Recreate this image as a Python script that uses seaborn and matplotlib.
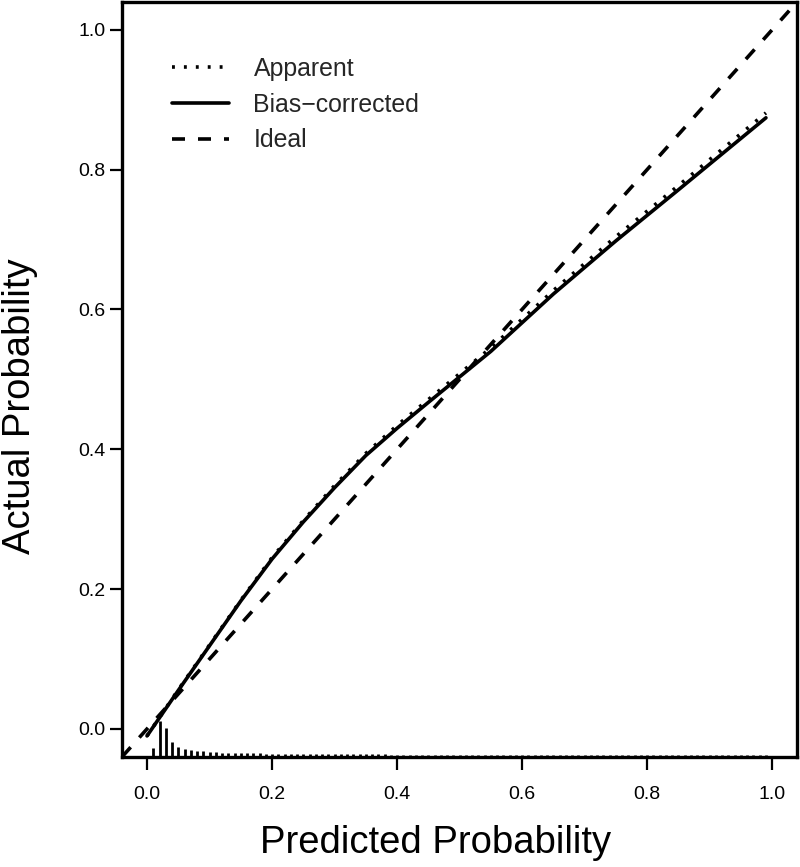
import numpy as np
import pandas as pd
import matplotlib
matplotlib.use("Agg")
import matplotlib.pyplot as plt
import seaborn as sns

# calibration curves (predicted vs actual probability)
pred = [0.00, 0.05, 0.10, 0.15, 0.20, 0.25, 0.30, 0.35, 0.40, 0.45,
        0.55, 0.65, 0.75, 0.85, 0.99]
bias_corrected = [-0.010, 0.055, 0.119, 0.183, 0.243, 0.296, 0.345, 0.391, 0.430, 0.467,
                  0.540, 0.622, 0.698, 0.771, 0.874]
apparent = [-0.010, 0.056, 0.120, 0.184, 0.245, 0.298, 0.348, 0.394, 0.434, 0.471,
            0.545, 0.627, 0.704, 0.777, 0.881]

# spike histogram of predicted probabilities (bins 0.01 .. 0.99)
spike_x = [round(0.01 * i, 2) for i in range(1, 100)]
spike_h = [0.013, 0.052, 0.042, 0.021, 0.014, 0.011, 0.010, 0.009, 0.008, 0.007,
           0.0065, 0.006, 0.006, 0.0055, 0.0055, 0.005, 0.005, 0.005, 0.0045, 0.0045,
           0.0045, 0.0045, 0.004, 0.004, 0.004, 0.004, 0.004, 0.004, 0.004, 0.0038,
           0.0038, 0.0038, 0.0035, 0.0035, 0.0035, 0.0035, 0.0035, 0.0035, 0.0033, 0.0033,
           0.0033, 0.0033, 0.0033, 0.0033, 0.0033, 0.0033, 0.0033, 0.0033, 0.0033, 0.0033,
           0.003, 0.003, 0.003, 0.003, 0.003, 0.003, 0.003, 0.003, 0.003, 0.003,
           0.003, 0.003, 0.003, 0.003, 0.003, 0.003, 0.003, 0.003, 0.003, 0.003,
           0.003, 0.003, 0.003, 0.003, 0.003, 0.003, 0.003, 0.003, 0.003, 0.003,
           0.003, 0.003, 0.003, 0.003, 0.003, 0.003, 0.003, 0.003, 0.003, 0.003,
           0.003, 0.003, 0.003, 0.003, 0.003, 0.003, 0.003, 0.003, 0.003]

x_ticks = [0.0, 0.2, 0.4, 0.6, 0.8, 1.0]
y_ticks = [0.0, 0.2, 0.4, 0.6, 0.8, 1.0]

sns.set_theme(style="ticks")
plt.rcParams['font.family'] = ['Liberation Sans', 'DejaVu Sans']

fig = plt.figure(figsize=(8, 8.67), dpi=100)
ax = fig.add_axes([0.1525, 0.127, 0.844, 0.871])

lw = 2.6
df = pd.DataFrame({'pred': pred, 'bias': bias_corrected, 'app': apparent})

sns.lineplot(data=df, x='pred', y='app', ax=ax, color='black', lw=lw,
             label='Apparent')
ax.lines[-1].set_dashes((0.8, 2.5))
sns.lineplot(data=df, x='pred', y='bias', ax=ax, color='black', lw=lw,
             label='Bias\u2212corrected')
ax.axline((0, 0), (1, 1), color='black', lw=lw, dashes=(3.6, 3.6), label='Ideal')

ymin, ymax = -0.04, 1.04
ax.set_xlim(-0.04, 1.04)
ax.set_ylim(ymin, ymax)

ax.vlines(spike_x, ymin, [ymin + h for h in spike_h], color='black', lw=2.0)

ax.set_xticks(x_ticks)
ax.set_yticks(y_ticks)
ax.set_xticklabels([f"{t:.1f}" for t in x_ticks])
ax.set_yticklabels([f"{t:.1f}" for t in y_ticks])
ax.tick_params(direction='out', length=9, width=1.6, color='black',
               labelsize=14, labelcolor='black')
ax.tick_params(axis='x', pad=12)
ax.tick_params(axis='y', pad=3)

for s in ax.spines.values():
    s.set_linewidth(2.4)
    s.set_color('black')
    s.set_visible(True)

ax.set_xlabel("Predicted Probability", fontsize=27.5, color='black')
ax.set_ylabel("Actual Probability", fontsize=27.5, color='black')
ax.xaxis.set_label_coords(0.464, -0.090)
ax.yaxis.set_label_coords(-0.124, 0.465)
ax.xaxis.label.set_va('top')

leg = ax.legend(loc='upper left', bbox_to_anchor=(0.0736, 0.927), frameon=False,
                fontsize=17.9, handlelength=2.29, handletextpad=1.0,
                labelspacing=0.47, borderpad=0, borderaxespad=0)

fig.savefig("out.png", dpi=100, facecolor='white')
